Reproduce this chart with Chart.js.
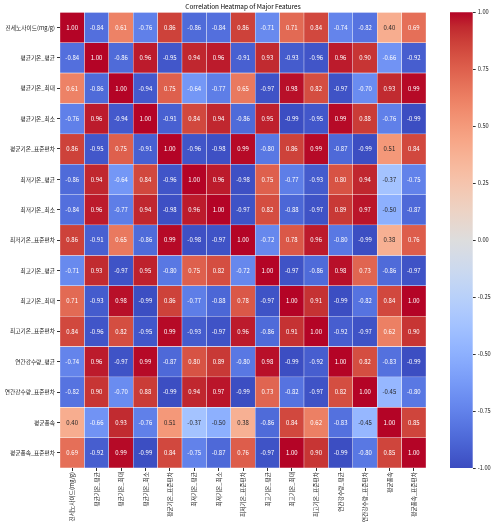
<!DOCTYPE html>
<html>
<head>
<meta charset="utf-8">
<script src="https://cdn.jsdelivr.net/npm/chart.js@4"></script>
<style>
  body { margin: 0; background: #fff; }
  #wrap { position: relative; width: 493px; height: 528px; }
  canvas { position: absolute; left: 0; top: 0; }
</style>
</head>
<body>
<div id="wrap">
  <canvas id="heatmap" width="493" height="528"></canvas>
  <canvas id="cbar" width="493" height="528"></canvas>
</div>
<script>
const features = [
  '진세노사이드(mg/g)', '평균기온_평균', '평균기온_최대', '평균기온_최소', '평균기온_표준편차',
  '최저기온_평균', '최저기온_최소', '최저기온_표준편차', '최고기온_평균', '최고기온_최대',
  '최고기온_표준편차', '연간강수량_평균', '연간강수량_표준편차', '평균풍속', '평균풍속_표준편차'
];

const corr = [
  [ 1.00, -0.84,  0.61, -0.76,  0.86, -0.86, -0.84,  0.86, -0.71,  0.71,  0.84, -0.74, -0.82,  0.40,  0.69],
  [-0.84,  1.00, -0.86,  0.96, -0.95,  0.94,  0.96, -0.91,  0.93, -0.93, -0.96,  0.96,  0.90, -0.66, -0.92],
  [ 0.61, -0.86,  1.00, -0.94,  0.75, -0.64, -0.77,  0.65, -0.97,  0.98,  0.82, -0.97, -0.70,  0.93,  0.99],
  [-0.76,  0.96, -0.94,  1.00, -0.91,  0.84,  0.94, -0.86,  0.95, -0.99, -0.95,  0.99,  0.88, -0.76, -0.99],
  [ 0.86, -0.95,  0.75, -0.91,  1.00, -0.96, -0.98,  0.99, -0.80,  0.86,  0.99, -0.87, -0.99,  0.51,  0.84],
  [-0.86,  0.94, -0.64,  0.84, -0.96,  1.00,  0.96, -0.98,  0.75, -0.77, -0.93,  0.80,  0.94, -0.37, -0.75],
  [-0.84,  0.96, -0.77,  0.94, -0.98,  0.96,  1.00, -0.97,  0.82, -0.88, -0.97,  0.89,  0.97, -0.50, -0.87],
  [ 0.86, -0.91,  0.65, -0.86,  0.99, -0.98, -0.97,  1.00, -0.72,  0.78,  0.96, -0.80, -0.99,  0.38,  0.76],
  [-0.71,  0.93, -0.97,  0.95, -0.80,  0.75,  0.82, -0.72,  1.00, -0.97, -0.86,  0.98,  0.73, -0.86, -0.97],
  [ 0.71, -0.93,  0.98, -0.99,  0.86, -0.77, -0.88,  0.78, -0.97,  1.00,  0.91, -0.99, -0.82,  0.84,  1.00],
  [ 0.84, -0.96,  0.82, -0.95,  0.99, -0.93, -0.97,  0.96, -0.86,  0.91,  1.00, -0.92, -0.97,  0.62,  0.90],
  [-0.74,  0.96, -0.97,  0.99, -0.87,  0.80,  0.89, -0.80,  0.98, -0.99, -0.92,  1.00,  0.82, -0.83, -0.99],
  [-0.82,  0.90, -0.70,  0.88, -0.99,  0.94,  0.97, -0.99,  0.73, -0.82, -0.97,  0.82,  1.00, -0.45, -0.80],
  [ 0.40, -0.66,  0.93, -0.76,  0.51, -0.37, -0.50,  0.38, -0.86,  0.84,  0.62, -0.83, -0.45,  1.00,  0.85],
  [ 0.69, -0.92,  0.99, -0.99,  0.84, -0.75, -0.87,  0.76, -0.97,  1.00,  0.90, -0.99, -0.80,  0.85,  1.00]
];

const cbarTicks = [-1, -0.75, -0.5, -0.25, 0, 0.25, 0.5, 0.75, 1];

const FONT = '"Noto Sans CJK KR", "Noto Sans", sans-serif';

// coolwarm colormap, 33 stops from -1 to 1
const coolwarm = [
  [59,76,192],[68,90,204],[77,104,215],[87,117,225],[98,130,234],[108,142,241],[119,154,247],[130,165,251],
  [141,176,254],[152,185,255],[163,194,255],[174,201,253],[184,208,249],[194,213,244],[204,217,238],[213,219,230],
  [221,221,221],[229,216,209],[236,211,197],[241,204,185],[245,196,173],[247,187,160],[247,177,148],[247,166,135],
  [244,154,123],[241,141,111],[236,127,99],[229,112,88],[222,96,77],[213,80,66],[203,62,56],[192,40,47],[180,4,38]
];

function cw(v) {
  let t = Math.max(0, Math.min(1, (v + 1) / 2));
  const p = t * (coolwarm.length - 1);
  const i = Math.min(Math.floor(p), coolwarm.length - 2);
  const f = p - i;
  const a = coolwarm[i], b = coolwarm[i + 1];
  return [0, 1, 2].map(k => Math.round(a[k] + (b[k] - a[k]) * f));
}
const rgb = c => `rgb(${c[0]},${c[1]},${c[2]})`;
function lum(c) {
  const l = c.map(x => { x /= 255; return x <= 0.03928 ? x / 12.92 : Math.pow((x + 0.055) / 1.055, 2.4); });
  return 0.2126 * l[0] + 0.7152 * l[1] + 0.0722 * l[2];
}

// write the value in each cell
const annotate = {
  id: 'annotate',
  afterDatasetsDraw(chart) {
    const ctx = chart.ctx;
    ctx.save();
    ctx.font = `6px ${FONT}`;
    ctx.textAlign = 'center';
    ctx.textBaseline = 'middle';
    chart.data.datasets.forEach((ds, r) => {
      chart.getDatasetMeta(r).data.forEach((bar, c) => {
        const v = corr[r][c];
        const p = bar.getCenterPoint();
        ctx.fillStyle = lum(cw(v)) > 0.408 ? '#262626' : '#ffffff';
        ctx.fillText(v.toFixed(2), p.x, p.y);
      });
    });
    ctx.restore();
  }
};

const tickFont = { family: FONT, size: 5.7 };

new Chart(document.getElementById('heatmap'), {
  type: 'bar',
  data: {
    labels: features,
    datasets: features.map((f, r) => ({
      label: f,
      data: features.map(() => [r, r + 1]),
      backgroundColor: corr[r].map(v => rgb(cw(v))),
      borderColor: 'rgba(255,255,255,0.8)',
      borderWidth: 0.5,
      borderSkipped: false,
      grouped: false,
      barPercentage: 1,
      categoryPercentage: 1
    }))
  },
  options: {
    responsive: false,
    animation: false,
    layout: { padding: { left: 0, right: 67, top: 0, bottom: 0 } },
    plugins: {
      legend: { display: false },
      tooltip: { enabled: false },
      title: {
        display: true,
        text: 'Correlation Heatmap of Major Features',
        fullSize: false,
        color: '#000',
        font: { family: FONT, size: 6.4, weight: 'normal' },
        padding: { top: 2.3, bottom: 2.3 }
      }
    },
    scales: {
      x: {
        type: 'category',
        grid: { offset: false, drawOnChartArea: false, tickLength: 3, color: '#333' },
        border: { display: false },
        ticks: { autoSkip: false, minRotation: 90, maxRotation: 90, font: tickFont, color: '#222', padding: 1 },
        afterFit(s) { s.height = 60; }
      },
      y: {
        type: 'linear',
        reverse: true,
        min: 0,
        max: 15,
        afterBuildTicks(s) { s.ticks = features.map((_, i) => ({ value: i + 0.5 })); },
        grid: { drawOnChartArea: false, tickLength: 3, color: '#333' },
        border: { display: false },
        ticks: { autoSkip: false, callback: (v, i) => features[i], font: tickFont, color: '#222', padding: 2 },
        afterFit(s) { s.width = 60; }
      }
    }
  },
  plugins: [annotate]
});

// colour bar
new Chart(document.getElementById('cbar'), {
  type: 'bar',
  data: {
    labels: ['cbar'],
    datasets: [{
      data: [[-1, 1]],
      backgroundColor(ctx) {
        const area = ctx.chart.chartArea;
        if (!area) return null;
        const g = ctx.chart.ctx.createLinearGradient(0, area.bottom, 0, area.top);
        coolwarm.forEach((c, i) => g.addColorStop(i / (coolwarm.length - 1), rgb(c)));
        return g;
      },
      borderWidth: 0,
      barPercentage: 1,
      categoryPercentage: 1
    }]
  },
  options: {
    responsive: false,
    animation: false,
    layout: { padding: { left: 450, top: 12.3, bottom: 60, right: 0 } },
    plugins: { legend: { display: false }, tooltip: { enabled: false } },
    scales: {
      x: { display: false },
      y: {
        position: 'right',
        min: -1,
        max: 1,
        afterBuildTicks(s) { s.ticks = cbarTicks.map(v => ({ value: v })); },
        grid: { drawOnChartArea: false, tickLength: 3, color: '#333' },
        border: { display: false },
        ticks: { callback: v => v.toFixed(2), font: tickFont, color: '#222', padding: 2 },
        afterFit(s) { s.width = 20.3; }
      }
    }
  }
});
</script>
</body>
</html>
